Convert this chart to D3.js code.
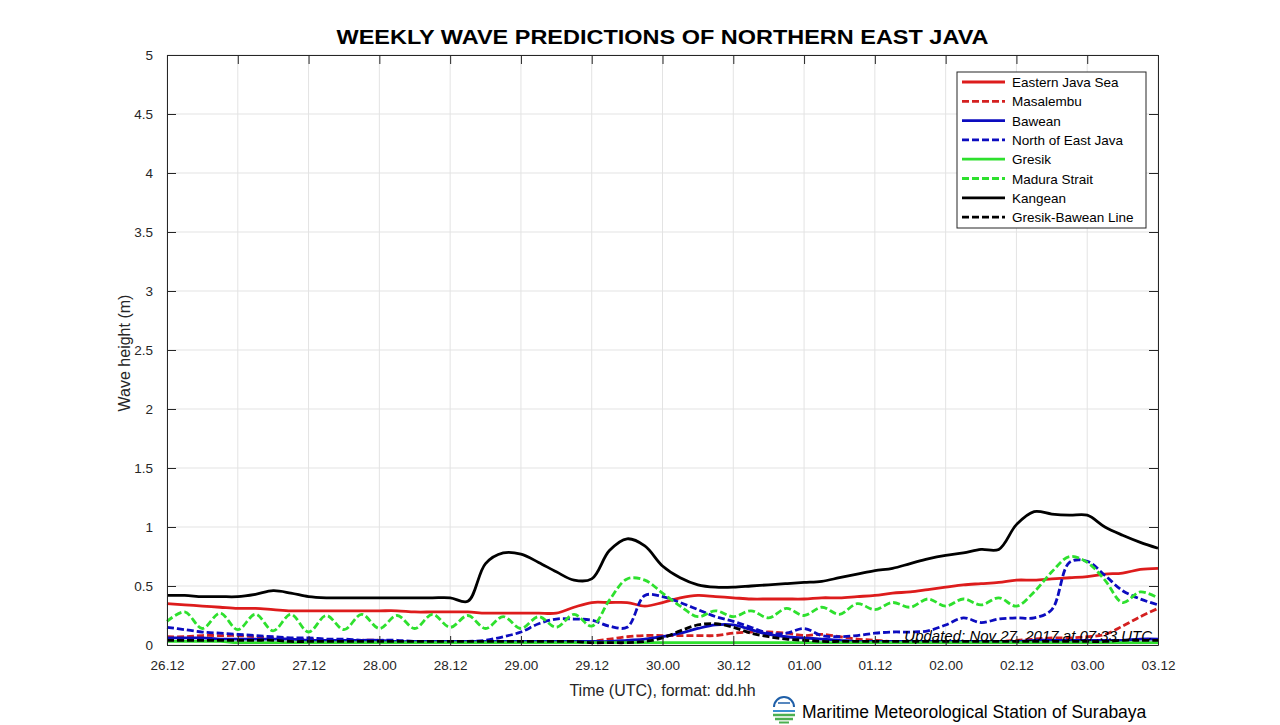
<!DOCTYPE html>
<html>
<head>
<meta charset="utf-8">
<script src="https://cdn.jsdelivr.net/npm/d3@7"></script>
<style>
  body { margin: 0; background: #fff; }
  svg { display: block; font-family: "Liberation Sans", Arial, sans-serif; }
</style>
</head>
<body>
<svg id="chart" width="1280" height="725"></svg>
<script>
// hours after 26.12 UTC, 3-hourly
const hours = [0, 3, 6, 9, 12, 15, 18, 21, 24, 27, 30, 33, 36, 39, 42, 45, 48, 51, 54, 57,
  60, 63, 66, 69, 72, 75, 78, 81, 84, 87, 90, 93, 96, 99, 102, 105, 108, 111, 114, 117,
  120, 123, 126, 129, 132, 135, 138, 141, 144, 147, 150, 153, 156, 159, 162, 165, 168];

const xTickLabels = ['26.12', '27.00', '27.12', '28.00', '28.12', '29.00', '29.12', '30.00',
  '30.12', '01.00', '01.12', '02.00', '02.12', '03.00', '03.12'];
const yTicks = [0, 0.5, 1, 1.5, 2, 2.5, 3, 3.5, 4, 4.5, 5];

const easternJavaSea = [0.35, 0.34, 0.33, 0.32, 0.31, 0.31, 0.30, 0.29, 0.29, 0.29, 0.29, 0.29,
  0.29, 0.29, 0.28, 0.28, 0.28, 0.28, 0.27, 0.27, 0.27, 0.27, 0.27, 0.32, 0.36, 0.36, 0.36, 0.33,
  0.36, 0.40, 0.42, 0.41, 0.40, 0.39, 0.39, 0.39, 0.39, 0.40, 0.40, 0.41, 0.42, 0.44, 0.45, 0.47,
  0.49, 0.51, 0.52, 0.53, 0.55, 0.55, 0.56, 0.57, 0.58, 0.60, 0.61, 0.64, 0.65];
const masalembu = [0.07, 0.07, 0.08, 0.08, 0.08, 0.07, 0.06, 0.05, 0.05, 0.04, 0.04, 0.04,
  0.04, 0.03, 0.03, 0.03, 0.03, 0.03, 0.03, 0.03, 0.03, 0.03, 0.03, 0.03, 0.03, 0.05, 0.07, 0.08,
  0.08, 0.08, 0.08, 0.08, 0.10, 0.11, 0.11, 0.10, 0.08, 0.09, 0.07, 0.05, 0.04, 0.03, 0.03, 0.03,
  0.03, 0.03, 0.03, 0.03, 0.04, 0.05, 0.06, 0.06, 0.07, 0.09, 0.16, 0.24, 0.31];
const bawean = [0.06, 0.06, 0.06, 0.05, 0.05, 0.05, 0.05, 0.05, 0.04, 0.04, 0.04, 0.04,
  0.04, 0.03, 0.03, 0.03, 0.03, 0.03, 0.03, 0.03, 0.03, 0.03, 0.03, 0.03, 0.03, 0.03, 0.04, 0.05,
  0.07, 0.10, 0.14, 0.17, 0.17, 0.13, 0.09, 0.07, 0.06, 0.05, 0.04, 0.03, 0.03, 0.03, 0.03, 0.03,
  0.03, 0.03, 0.03, 0.03, 0.03, 0.04, 0.04, 0.04, 0.04, 0.04, 0.04, 0.05, 0.05];
const northEastJava = [0.15, 0.13, 0.11, 0.10, 0.09, 0.08, 0.07, 0.06, 0.06, 0.05, 0.05, 0.04,
  0.04, 0.04, 0.03, 0.03, 0.03, 0.03, 0.04, 0.07, 0.11, 0.18, 0.22, 0.22, 0.21, 0.16, 0.15, 0.42,
  0.41, 0.36, 0.30, 0.24, 0.20, 0.15, 0.10, 0.10, 0.14, 0.08, 0.07, 0.08, 0.10, 0.11, 0.11, 0.12,
  0.17, 0.23, 0.19, 0.22, 0.23, 0.23, 0.30, 0.70, 0.71, 0.59, 0.46, 0.39, 0.34];
const gresik = [0.03, 0.03, 0.03, 0.03, 0.02, 0.02, 0.02, 0.02, 0.02, 0.02, 0.02, 0.02,
  0.02, 0.02, 0.02, 0.02, 0.02, 0.02, 0.02, 0.02, 0.02, 0.02, 0.02, 0.02, 0.02, 0.02, 0.02, 0.02,
  0.02, 0.02, 0.02, 0.02, 0.02, 0.02, 0.02, 0.02, 0.02, 0.02, 0.02, 0.02, 0.02, 0.02, 0.02, 0.02,
  0.02, 0.02, 0.02, 0.02, 0.02, 0.02, 0.02, 0.02, 0.02, 0.02, 0.02, 0.02, 0.02];
const maduraStrait = [0.20, 0.28, 0.14, 0.27, 0.13, 0.26, 0.12, 0.26, 0.11, 0.25, 0.13, 0.26,
  0.14, 0.25, 0.14, 0.26, 0.15, 0.25, 0.14, 0.24, 0.14, 0.24, 0.15, 0.26, 0.16, 0.38, 0.56, 0.55,
  0.44, 0.33, 0.24, 0.29, 0.24, 0.29, 0.23, 0.31, 0.25, 0.32, 0.26, 0.35, 0.30, 0.36, 0.32, 0.39,
  0.33, 0.39, 0.34, 0.40, 0.33, 0.45, 0.62, 0.75, 0.70, 0.55, 0.36, 0.45, 0.40];
const kangean = [0.42, 0.42, 0.41, 0.41, 0.41, 0.43, 0.46, 0.44, 0.41, 0.40, 0.40, 0.40,
  0.40, 0.40, 0.40, 0.40, 0.40, 0.37, 0.69, 0.78, 0.77, 0.70, 0.62, 0.55, 0.56, 0.80, 0.90, 0.84,
  0.67, 0.57, 0.51, 0.49, 0.49, 0.50, 0.51, 0.52, 0.53, 0.54, 0.57, 0.60, 0.63, 0.65, 0.69, 0.73,
  0.76, 0.78, 0.81, 0.81, 1.02, 1.13, 1.11, 1.10, 1.10, 1.00, 0.93, 0.87, 0.82];
const gresikBawean = [0.04, 0.04, 0.04, 0.04, 0.04, 0.04, 0.04, 0.03, 0.03, 0.03, 0.03, 0.03,
  0.03, 0.03, 0.03, 0.03, 0.03, 0.03, 0.03, 0.03, 0.03, 0.03, 0.03, 0.03, 0.02, 0.02, 0.02, 0.03,
  0.06, 0.12, 0.17, 0.18, 0.15, 0.10, 0.07, 0.05, 0.04, 0.03, 0.03, 0.03, 0.03, 0.03, 0.03, 0.03,
  0.03, 0.03, 0.03, 0.03, 0.03, 0.03, 0.03, 0.03, 0.03, 0.03, 0.04, 0.04, 0.04];

const seriesNames = ['Eastern Java Sea', 'Masalembu', 'Bawean', 'North of East Java',
  'Gresik', 'Madura Strait', 'Kangean', 'Gresik-Bawean Line'];
const seriesValues = [easternJavaSea, masalembu, bawean, northEastJava,
  gresik, maduraStrait, kangean, gresikBawean];
const seriesColors = ['#dd1c1c', '#d42020', '#0c0cbf', '#0c0cbf', '#2ee02e', '#2ee02e', '#000', '#000'];
const seriesDashed = [false, true, false, true, false, true, false, true];
const dash = '7,3';

const margin = { top: 55, right: 122, bottom: 80, left: 167 };
const W = 1280, H = 725;
const width = W - margin.left - margin.right;
const height = H - margin.top - margin.bottom;
const axisColor = '#262626';

const svg = d3.select('#chart');
const g = svg.append('g').attr('transform', `translate(${margin.left},${margin.top})`);

const x = d3.scaleLinear().domain([0, 168]).range([0, width]);
const y = d3.scaleLinear().domain([0, 5]).range([height, 0]);
const xTickVals = xTickLabels.map((d, i) => i * 12);

// Grid
g.append('g').selectAll('line').data(xTickVals).join('line')
  .attr('x1', d => x(d)).attr('x2', d => x(d)).attr('y1', 0).attr('y2', height)
  .attr('stroke', '#e3e3e3').attr('stroke-width', 1);
g.append('g').selectAll('line').data(yTicks).join('line')
  .attr('x1', 0).attr('x2', width).attr('y1', d => y(d)).attr('y2', d => y(d))
  .attr('stroke', '#e3e3e3').attr('stroke-width', 1);

// Lines
const line = d3.line().x((d, i) => x(hours[i])).y(d => y(d)).curve(d3.curveCatmullRom.alpha(0.5));
seriesValues.forEach((vals, k) => {
  g.append('path')
    .datum(vals)
    .attr('fill', 'none')
    .attr('stroke', seriesColors[k])
    .attr('stroke-width', 2.8)
    .attr('stroke-dasharray', seriesDashed[k] ? dash : null)
    .attr('d', line);
});

// Axes (box with inward ticks)
const tickLen = 9;
const xAxis = g.append('g').attr('transform', `translate(0,${height})`)
  .call(d3.axisBottom(x).tickValues(xTickVals).tickFormat((d, i) => xTickLabels[i])
    .tickSizeInner(-tickLen).tickSizeOuter(0).tickPadding(tickLen + 6));
const xAxisTop = g.append('g')
  .call(d3.axisTop(x).tickValues(xTickVals).tickFormat('').tickSizeInner(-tickLen).tickSizeOuter(0));
const yAxis = g.append('g')
  .call(d3.axisLeft(y).tickValues(yTicks).tickFormat(d3.format('')).tickSizeInner(-tickLen)
    .tickSizeOuter(0).tickPadding(tickLen + 5));
const yAxisRight = g.append('g').attr('transform', `translate(${width},0)`)
  .call(d3.axisRight(y).tickValues(yTicks).tickFormat('').tickSizeInner(-tickLen).tickSizeOuter(0));
[xAxis, xAxisTop, yAxis, yAxisRight].forEach(a => {
  a.selectAll('path, line').attr('stroke', axisColor).attr('stroke-width', 1);
  a.selectAll('text').attr('fill', axisColor).attr('font-size', '13.5px')
    .attr('font-family', '"Liberation Sans", Arial, sans-serif');
});

// Updated note
g.append('text')
  .attr('x', x(125)).attr('y', y(0.03))
  .attr('font-size', '15px').attr('font-style', 'italic').attr('fill', '#000')
  .text('Updated: Nov 27, 2017 at 07:33 UTC');

// Title
svg.append('text')
  .attr('x', margin.left + width / 2).attr('y', 44)
  .attr('text-anchor', 'middle')
  .attr('font-size', '21px').attr('font-weight', 'bold').attr('fill', '#000')
  .attr('textLength', 652).attr('lengthAdjust', 'spacingAndGlyphs')
  .text('WEEKLY WAVE PREDICTIONS OF NORTHERN EAST JAVA');

// Axis labels
svg.append('text')
  .attr('x', margin.left + width / 2).attr('y', 696)
  .attr('text-anchor', 'middle').attr('font-size', '16px').attr('fill', axisColor)
  .text('Time (UTC), format: dd.hh');
svg.append('text')
  .attr('transform', `translate(130,${margin.top + height / 2 + 3}) rotate(-90)`)
  .attr('text-anchor', 'middle').attr('font-size', '16px').attr('fill', axisColor)
  .text('Wave height (m)');

// Legend
const legend = svg.append('g').attr('transform', 'translate(957,72)');
legend.append('rect')
  .attr('width', 189).attr('height', 156)
  .attr('fill', '#fff').attr('stroke', axisColor).attr('stroke-width', 1);
seriesNames.forEach((name, k) => {
  const ly = 10 + k * 19.3;
  legend.append('line')
    .attr('x1', 5).attr('x2', 48).attr('y1', ly).attr('y2', ly)
    .attr('stroke', seriesColors[k]).attr('stroke-width', 2.8)
    .attr('stroke-dasharray', seriesDashed[k] ? dash : null);
  legend.append('text')
    .attr('x', 55).attr('y', ly + 5)
    .attr('font-size', '13.5px').attr('fill', '#000')
    .text(name);
});

// Footer logo + station name
const logo = svg.append('g').attr('transform', 'translate(784,711)');
logo.append('path').attr('d', 'M-10,-4 A10,10 0 0 1 10,-4').attr('fill', 'none')
  .attr('stroke', '#1f5fa8').attr('stroke-width', 2);
logo.append('line').attr('x1', -6).attr('x2', 6).attr('y1', -8).attr('y2', -8)
  .attr('stroke', '#1f5fa8').attr('stroke-width', 1.5);
logo.append('line').attr('x1', -11).attr('x2', 11).attr('y1', 0).attr('y2', 0)
  .attr('stroke', '#3a8fd0').attr('stroke-width', 2);
logo.append('line').attr('x1', -11).attr('x2', 11).attr('y1', 4).attr('y2', 4)
  .attr('stroke', '#4caf50').attr('stroke-width', 2.5);
logo.append('line').attr('x1', -9).attr('x2', 9).attr('y1', 8).attr('y2', 8)
  .attr('stroke', '#4caf50').attr('stroke-width', 2.5);
logo.append('line').attr('x1', -5).attr('x2', 5).attr('y1', 11.5).attr('y2', 11.5)
  .attr('stroke', '#4caf50').attr('stroke-width', 2);
svg.append('text')
  .attr('x', 802).attr('y', 718)
  .attr('font-size', '17.5px').attr('fill', '#000')
  .text('Maritime Meteorological Station of Surabaya');
</script>
</body>
</html>
